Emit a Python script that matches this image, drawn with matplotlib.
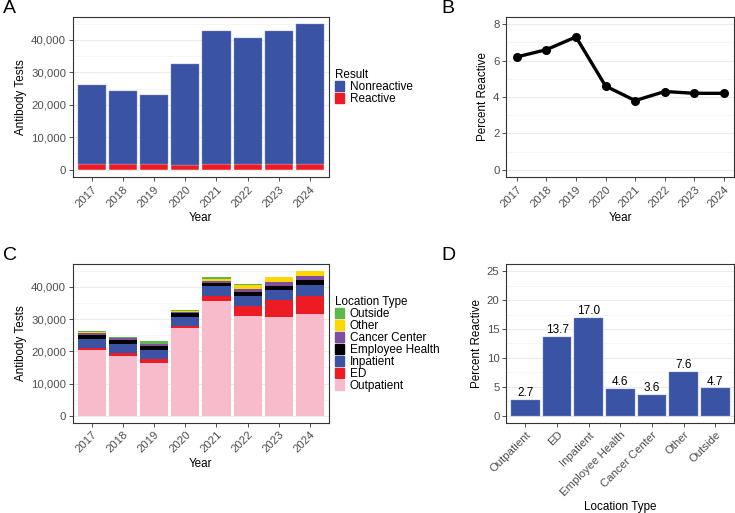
import numpy as np
import matplotlib
matplotlib.use("Agg")
import matplotlib.pyplot as plt
from matplotlib.patches import Patch
from matplotlib.ticker import FuncFormatter, MultipleLocator

plt.rcParams['font.family'] = ['Liberation Sans', 'DejaVu Sans']

# data
years = ['2017', '2018', '2019', '2020', '2021', '2022', '2023', '2024']
nonreactive = [24390, 22790, 21460, 31200, 41270, 38900, 41100, 42970]
reactive = [1610, 1610, 1690, 1500, 1630, 1750, 1800, 1880]
pct_reactive = [6.2, 6.6, 7.3, 4.6, 3.8, 4.3, 4.2, 4.2]

loc_types = ['Outpatient', 'ED', 'Inpatient', 'Employee Health', 'Cancer Center', 'Other', 'Outside']
outpatient = [20360, 18500, 16330, 27080, 35760, 31010, 30700, 31630]
ed = [725, 930, 1240, 830, 1450, 3100, 5170, 5680]
inpatient = [2585, 2690, 2790, 2790, 2990, 2990, 3100, 3310]
employee_health = [1340, 1340, 1140, 1130, 1140, 1350, 1440, 1650]
cancer_center = [520, 520, 620, 520, 620, 830, 1040, 1250]
other = [410, 210, 210, 210, 520, 1440, 1550, 1340]
outside = [210, 200, 820, 200, 520, 30, 30, 30]
loc_pct = [2.7, 13.7, 17.0, 4.6, 3.6, 7.6, 4.7]

blue = '#3A53A4'
red = '#ED1C24'
loc_colors = ['#F8BBCC', red, blue, '#000000', '#7E4FA0', '#FFD700', '#5DB84A']

TICK = 8.2
LAB = 8.4
GRAY = '#4D4D4D'


def style(ax):
    ax.set_facecolor('white')
    for s in ax.spines.values():
        s.set_color('#333333')
        s.set_linewidth(0.8)
    ax.tick_params(axis='both', colors='#333333', labelcolor=GRAY, labelsize=TICK,
                   length=3, width=0.6, pad=2)
    ax.yaxis.grid(True, which='major', color='#EBEBEB', lw=0.8)
    ax.yaxis.grid(True, which='minor', color='#F2F2F2', lw=0.5)
    ax.tick_params(axis='y', which='minor', length=0)
    ax.set_axisbelow(True)
    for lbl in ax.get_xticklabels():
        lbl.set_rotation(45)
        lbl.set_ha('right')
        lbl.set_rotation_mode('anchor')


comma = FuncFormatter(lambda v, p: f'{int(v):,}')

fig = plt.figure(figsize=(7.35, 5.13), dpi=100)
axA = fig.add_axes([0.0993, 0.655, 0.348, 0.312])
axB = fig.add_axes([0.689, 0.655, 0.310, 0.312])
axC = fig.add_axes([0.0993, 0.176, 0.348, 0.309])
axD = fig.add_axes([0.689, 0.176, 0.310, 0.309])

x = np.arange(len(years))

# Panel A
axA.bar(x, reactive, width=0.9, color=red, edgecolor='white', linewidth=0.3)
axA.bar(x, nonreactive, bottom=reactive, width=0.9, color=blue, edgecolor='#8090C8', linewidth=0.3)
axA.set_xlim(-0.6, len(years) - 0.4)
axA.set_ylim(-2240, 47100)
axA.yaxis.set_major_locator(MultipleLocator(10000))
axA.yaxis.set_minor_locator(MultipleLocator(5000))
axA.yaxis.set_major_formatter(comma)
axA.set_xticks(x)
axA.set_xticklabels(years)
axA.set_ylabel('Antibody Tests', fontsize=LAB, labelpad=3)
axA.set_xlabel('Year', fontsize=LAB, labelpad=2)
style(axA)

# Panel B
axB.plot(x, pct_reactive, color='black', lw=2.4, marker='o', ms=5.5)
axB.set_xlim(-0.35, len(years) - 0.65)
axB.set_ylim(-0.4, 8.4)
axB.yaxis.set_major_locator(MultipleLocator(2))
axB.yaxis.set_minor_locator(MultipleLocator(1))
axB.set_xticks(x)
axB.set_xticklabels(years)
axB.set_ylabel('Percent Reactive', fontsize=LAB, labelpad=3)
axB.set_xlabel('Year', fontsize=LAB, labelpad=2)
style(axB)

# Panel C
series = [outpatient, ed, inpatient, employee_health, cancer_center, other, outside]
bottom = np.zeros(len(years))
for vals, col in zip(series, loc_colors):
    axC.bar(x, vals, bottom=bottom, width=0.9, color=col, linewidth=0)
    bottom += np.array(vals)
axC.set_xlim(-0.6, len(years) - 0.4)
axC.set_ylim(-2170, 47040)
axC.yaxis.set_major_locator(MultipleLocator(10000))
axC.yaxis.set_minor_locator(MultipleLocator(5000))
axC.yaxis.set_major_formatter(comma)
axC.set_xticks(x)
axC.set_xticklabels(years)
axC.set_ylabel('Antibody Tests', fontsize=LAB, labelpad=3)
axC.set_xlabel('Year', fontsize=LAB, labelpad=2)
style(axC)

# Panel D
xd = np.arange(len(loc_types))
axD.bar(xd, loc_pct, width=0.9, color=blue, edgecolor='#8090C8', linewidth=0.3)
for xi, v in zip(xd, loc_pct):
    axD.text(xi, v + 0.15, f'{v:.1f}', ha='center', va='bottom', fontsize=TICK + 0.3, color='black')
axD.set_xlim(-0.6, len(loc_types) - 0.4)
axD.set_ylim(-1.25, 26.25)
axD.yaxis.set_major_locator(MultipleLocator(5))
axD.yaxis.set_minor_locator(MultipleLocator(2.5))
axD.set_xticks(xd)
axD.set_xticklabels(loc_types)
axD.set_ylabel('Percent Reactive', fontsize=LAB, labelpad=3)
axD.set_xlabel('Location Type', fontsize=LAB, labelpad=2)
style(axD)

# legends
legA = fig.legend(handles=[Patch(color=blue, label='Nonreactive'), Patch(color=red, label='Reactive')],
                  title='Result', loc='upper left', bbox_to_anchor=(0.456, 0.865), frameon=False,
                  fontsize=TICK + 0.3, title_fontsize=LAB, handlelength=0.75, handleheight=0.9,
                  handletextpad=0.5, labelspacing=0.0, borderaxespad=0, borderpad=0)
legA._legend_box.align = 'left'

legC = fig.legend(handles=[Patch(color=c, label=l) for c, l in zip(loc_colors[::-1], loc_types[::-1])],
                  title='Location Type', loc='upper left', bbox_to_anchor=(0.456, 0.423), frameon=False,
                  fontsize=TICK + 0.3, title_fontsize=LAB, handlelength=0.75, handleheight=0.9,
                  handletextpad=0.5, labelspacing=0.0, borderaxespad=0, borderpad=0)
legC._legend_box.align = 'left'

# panel letters
for lbl, xx, yy in [('A', 0.004, 1.0), ('B', 0.601, 1.0), ('C', 0.004, 0.518), ('D', 0.601, 0.518)]:
    fig.text(xx, yy, lbl, fontsize=14, va='top', ha='left')

fig.savefig('out.png', dpi=100)
